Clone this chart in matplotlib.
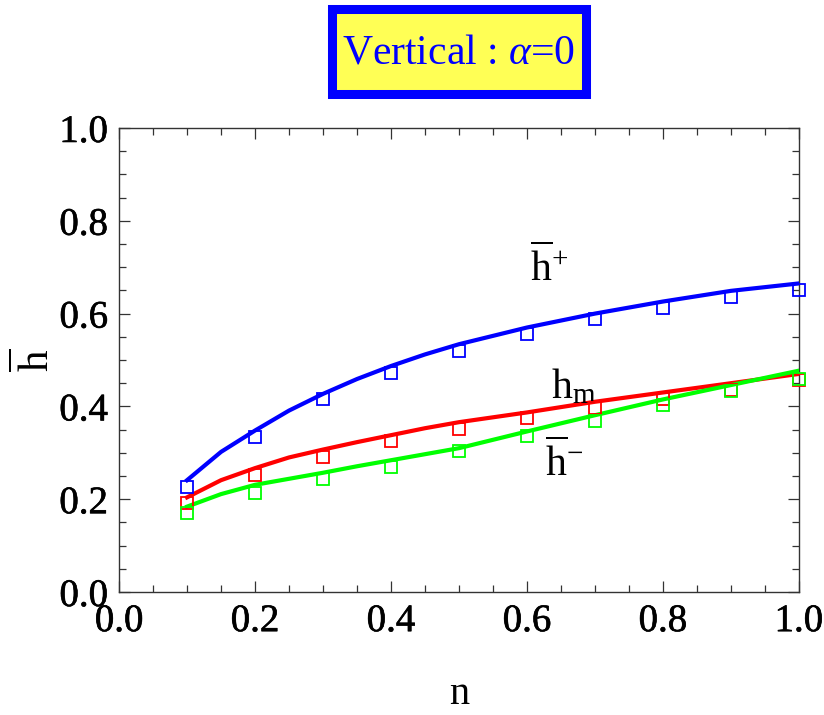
import matplotlib
matplotlib.use("Agg")
import matplotlib.pyplot as plt
import matplotlib.patheffects as pe
from matplotlib.patches import Rectangle
from matplotlib.ticker import MultipleLocator

plt.rcParams['font.family'] = ['Liberation Serif', 'DejaVu Serif']
plt.rcParams['mathtext.fontset'] = 'custom'
plt.rcParams['mathtext.rm'] = 'Liberation Serif'
plt.rcParams['mathtext.it'] = 'Liberation Serif:italic'

# sample points (squares)
n_pts = [0.1, 0.2, 0.3, 0.4, 0.5, 0.6, 0.7, 0.8, 0.9, 1.0]
h_plus_pts = [0.227, 0.335, 0.415, 0.473, 0.520, 0.557, 0.588, 0.611, 0.635, 0.651]
h_m_pts = [0.191, 0.253, 0.292, 0.325, 0.351, 0.374, 0.397, 0.417, 0.435, 0.457]
h_minus_pts = [0.170, 0.214, 0.243, 0.270, 0.303, 0.336, 0.369, 0.402, 0.434, 0.460]

# model curves
n_line = [0.1, 0.15, 0.2, 0.25, 0.3, 0.35, 0.4, 0.45, 0.5, 0.6, 0.7, 0.8, 0.9, 1.0]
h_plus_line = [0.241, 0.302, 0.348, 0.391, 0.427, 0.459, 0.487, 0.512, 0.534, 0.570, 0.600, 0.626, 0.649, 0.665]
h_m_line = [0.204, 0.241, 0.267, 0.290, 0.307, 0.323, 0.338, 0.353, 0.366, 0.387, 0.410, 0.430, 0.450, 0.470]
h_minus_line = [0.184, 0.211, 0.231, 0.244, 0.257, 0.271, 0.284, 0.297, 0.310, 0.346, 0.381, 0.415, 0.446, 0.477]

blue, red, green = '#0000ff', '#ff0000', '#00ff00'
heavy = [pe.withStroke(linewidth=0.45, foreground='black')]

fig = plt.figure(figsize=(8.24, 7.15), dpi=100)
ax = fig.add_axes([0.1445, 0.172, 0.825, 0.649])

for y_line, y_pts, c in [(h_plus_line, h_plus_pts, blue),
                          (h_m_line, h_m_pts, red),
                          (h_minus_line, h_minus_pts, green)]:
    ax.plot(n_line, y_line, color=c, lw=3.0, zorder=3)
    ax.plot(n_pts, y_pts, ls='none', marker='s', ms=8, mfc='none',
            mec=c, mew=1.3, zorder=4, clip_on=False)

ax.set_xlim(0, 1)
ax.set_ylim(0, 1)
ax.xaxis.set_major_locator(MultipleLocator(0.2))
ax.yaxis.set_major_locator(MultipleLocator(0.2))
ax.xaxis.set_minor_locator(MultipleLocator(0.05))
ax.yaxis.set_minor_locator(MultipleLocator(0.05))
ax.tick_params(which='both', direction='in', top=True, right=True,
               colors='#333333', labelcolor='black', width=0.9)
ax.tick_params(which='major', length=8, labelsize=28, pad=8)
ax.tick_params(which='minor', length=5)
ax.xaxis.set_major_formatter(plt.FuncFormatter(lambda v, p: f"{v:.1f}"))
ax.yaxis.set_major_formatter(plt.FuncFormatter(lambda v, p: f"{v:.1f}"))
for lab in ax.get_xticklabels() + ax.get_yticklabels():
    lab.set_path_effects(heavy)
for s in ax.spines.values():
    s.set_linewidth(1.0)
    s.set_color('#333333')

ax.set_xlabel('n', fontsize=29, labelpad=26)
ax.set_ylabel(r'$\overline{\mathrm{h}}$', fontsize=31, labelpad=1)

ax.text(0.632, 0.70, r'$\overline{\mathrm{h}}^{+}$', fontsize=30, ha='center', va='center')
ax.text(0.668, 0.44, r'$\mathrm{h}_{\mathrm{m}}$', fontsize=30, ha='center', va='center')
ax.text(0.655, 0.28, r'$\overline{\mathrm{h}}^{-}$', fontsize=30, ha='center', va='center')

# framed title panel
fig.patches.append(Rectangle((0.403, 0.8685), 0.308, 0.119, transform=fig.transFigure,
                             fc='#ffff55', ec=blue, lw=6.5, zorder=1))
fig.text(0.557, 0.925, r'Vertical : $\alpha$=0', fontsize=30, color=blue,
         ha='center', va='center', zorder=2)

fig.savefig('out.png', dpi=100)
